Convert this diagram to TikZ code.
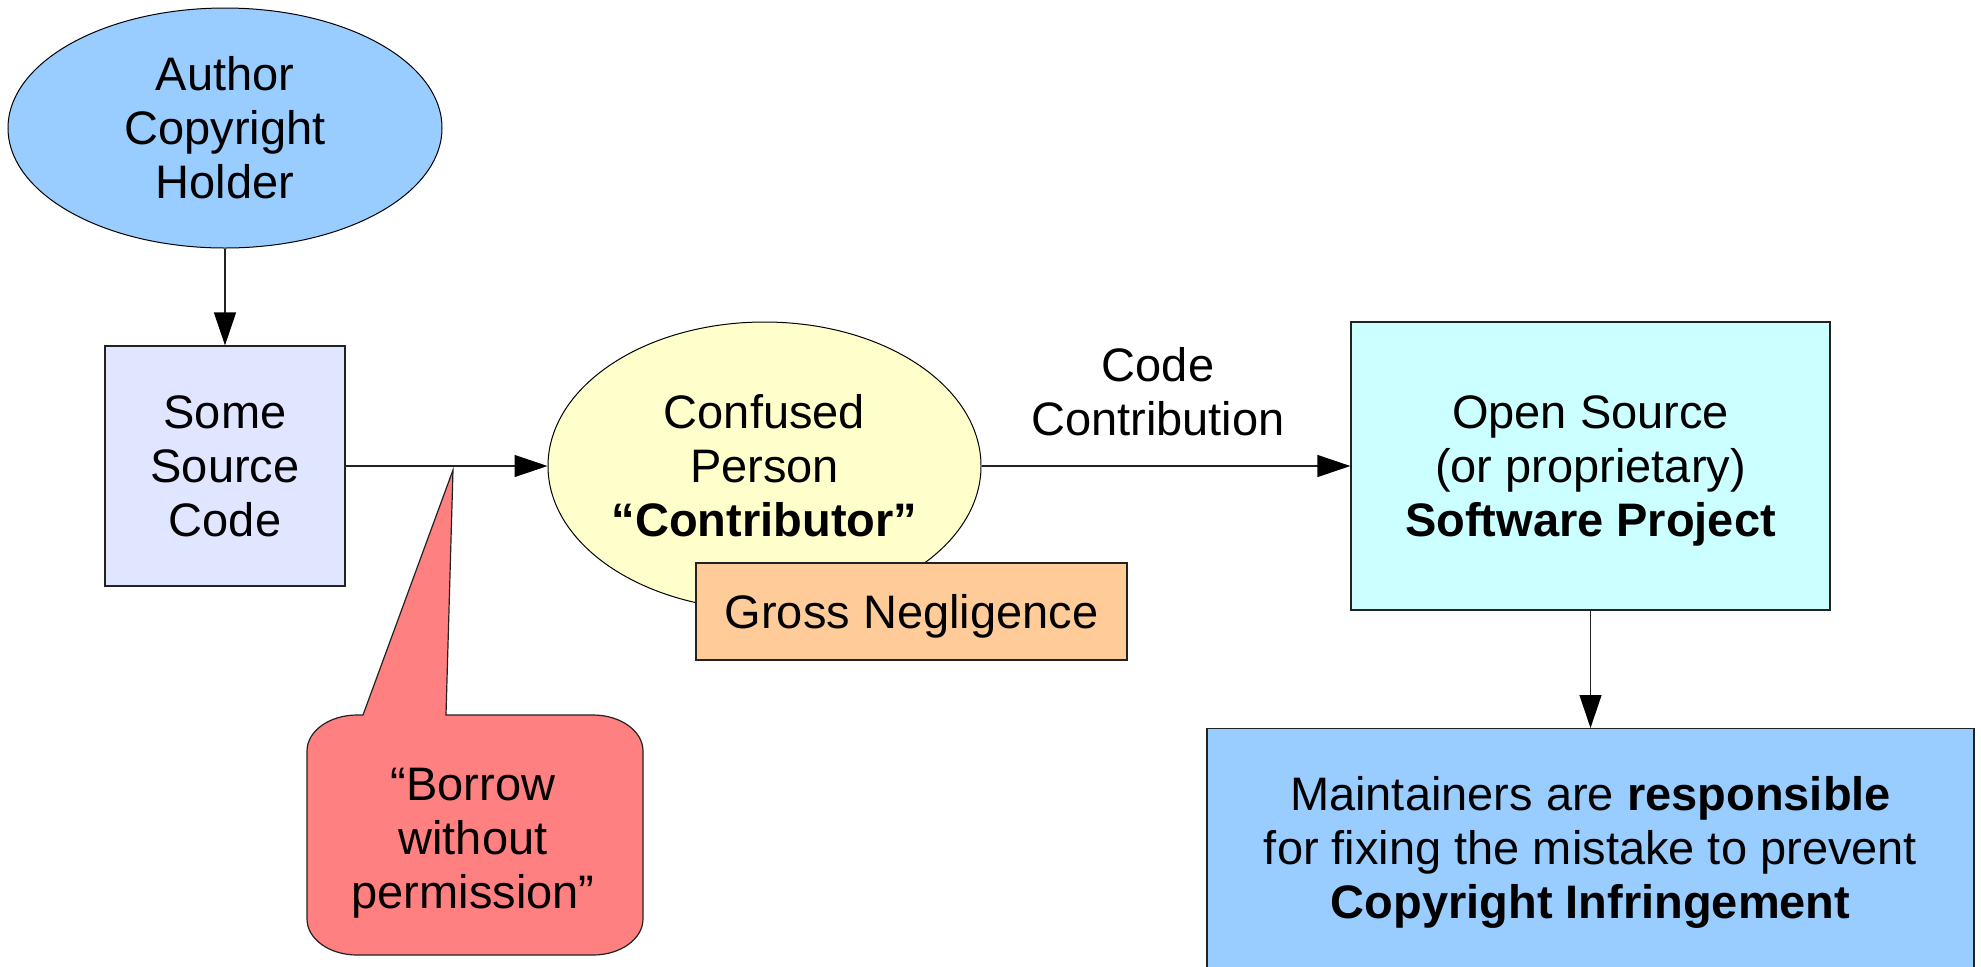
\documentclass[tikz,border=0pt]{standalone}
\usepackage{fontspec}
\setmainfont{Liberation Sans}
\usetikzlibrary{shapes.geometric,arrows.meta}
\definecolor{authorblue}{HTML}{99CCFF}
\definecolor{srcfill}{HTML}{E0E6FF}
\definecolor{yellowfill}{HTML}{FFFFCC}
\definecolor{orangefill}{HTML}{FFCC99}
\definecolor{cyanfill}{HTML}{CCFFFF}
\definecolor{redfill}{HTML}{FF8080}
\definecolor{linegray}{HTML}{222222}
\begin{document}
\begin{tikzpicture}[x=0.5pt,y=-0.5pt,
  txt/.style={font=\fontsize{23.5}{27}\selectfont, align=center, inner sep=0pt},
  oval/.style={ellipse, draw=black, line width=0.5pt, txt},
  box/.style={rectangle, draw=linegray, line width=0.6pt, txt},
  arr/.style={draw=linegray, line width=0.6pt, -{Triangle[length=16.5pt,width=11pt,color=black,fill=black]}},
]
\useasboundingbox (0,0) rectangle (1981,966);

% nodes
\node[oval, fill=authorblue, minimum width=217pt, minimum height=120pt] (author) at (225,128) {Author\\Copyright\\Holder};
\node[box, fill=srcfill, minimum width=120pt, minimum height=120pt] (source) at (225,466) {Some\\Source\\Code};
\node[oval, fill=yellowfill, minimum width=216.5pt, minimum height=144pt] (person) at (764.5,466) {Confused\\Person\\\textbf{“Contributor”}};
\node[box, fill=orangefill, minimum width=215.5pt, minimum height=48.5pt, text depth=0pt] (gross) at (911.5,611.5) {Gross Negligence};
\node[box, fill=cyanfill, minimum width=239.5pt, minimum height=144pt, text depth=0pt] (project) at (1590.5,466) {Open Source\\(or proprietary)\\\textbf{Software Project}};
\node[box, fill=authorblue, minimum width=383.5pt, minimum height=136pt, anchor=north] (maint) at (1590.5,728) {};
\node[txt] (mainttext) at (1590.5,852) {Maintainers are \textbf{responsible}\\for fixing the mistake to prevent\\\textbf{Copyright Infringement}};
\node[txt] (codelabel) at (1158,392) {Code\\Contribution};

% callout
\draw[draw=linegray, line width=0.6pt, fill=redfill]
  (446,715) -- (593,715) .. controls (620.6,715) and (643,731.1) .. (643,751)
  -- (643,919) .. controls (643,938.9) and (620.6,955) .. (593,955)
  -- (357,955) .. controls (329.4,955) and (307,938.9) .. (307,919)
  -- (307,751) .. controls (307,731.1) and (329.4,715) .. (357,715)
  -- (363,715) -- (453,470) -- cycle;
\node[txt] (borrow) at (473,843) {“Borrow\\without\\permission”};

% connectors
\draw[arr] (author) -- (source);
\draw[arr] (source) -- (person);
\draw[arr] (person) -- (project);
\draw[arr] (project) -- (maint);
\end{tikzpicture}
\end{document}
